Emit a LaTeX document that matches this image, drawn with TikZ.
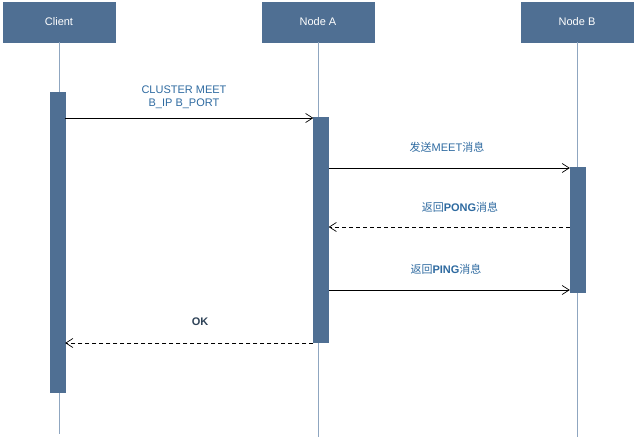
\documentclass[tikz,border=0pt]{standalone}
\usepackage{fontspec}
\setmainfont{Liberation Sans}
\newfontfamily\cjk{Noto Sans CJK SC}
\usetikzlibrary{arrows.meta}
\definecolor{hdr}{HTML}{4F6F93}
\definecolor{lbl}{HTML}{2E6AA0}
\definecolor{lline}{HTML}{8FA6C0}
\begin{document}
\begin{tikzpicture}[x=1pt,y=-1pt,
  hd/.style={fill=hdr,draw=hdr,text=white,minimum width=112pt,minimum height=40pt,inner sep=0,font=\fontsize{11}{13}\selectfont},
  act/.style={fill=hdr,draw=hdr,minimum width=15pt,inner sep=0},
  life/.style={draw=lline,line width=0.6pt},
  msg/.style={draw=black,line width=0.7pt,-{Straight Barb[length=7pt,width=9pt]}},
  ret/.style={msg,dash pattern=on 4pt off 3pt},
  lb/.style={text=lbl,font=\fontsize{11}{13}\selectfont,align=center,inner sep=1pt}]
\useasboundingbox (0,0) rectangle (636,439);
\node[hd] (c) at (59,22) {Client};
\node[hd] (a) at (318,22) {Node A};
\node[hd] (b) at (577,22) {Node B};
\coordinate (ce) at (59,434);
\coordinate (ae) at (318,437);
\coordinate (be) at (577,437);
\draw[life] (c.south) -- (ce);
\draw[life] (a.south) -- (ae);
\draw[life] (b.south) -- (be);
\node[act,minimum height=300pt] (ca) at (57.5,242) {};
\node[act,minimum height=225pt] (aa) at (321,229.5) {};
\node[act,minimum height=125pt] (ba) at (577.5,229.5) {};
\draw[msg] (ca.east |- 0,118) -- (aa.west |- 0,118);
\node[lb] (m1) at (184,97) {CLUSTER MEET\\B\_IP B\_PORT};
\draw[msg] (aa.east |- 0,168) -- (ba.west |- 0,168);
\node[lb] (m2) at (447,147) {{\cjk 发送}MEET{\cjk 消息}};
\draw[ret] (ba.west |- 0,227) -- (aa.east |- 0,227);
\node[lb] (m3) at (460,207) {{\cjk 返回}\textbf{PONG}{\cjk 消息}};
\draw[msg] (aa.east |- 0,290) -- (ba.west |- 0,290);
\node[lb] (m4) at (446,269) {{\cjk 返回}\textbf{PING}{\cjk 消息}};
\draw[ret] (aa.west |- 0,343) -- (ca.east |- 0,343);
\node[lb,text=hdr!60!black] (m5) at (200,322) {\textbf{OK}};
\end{tikzpicture}
\end{document}
